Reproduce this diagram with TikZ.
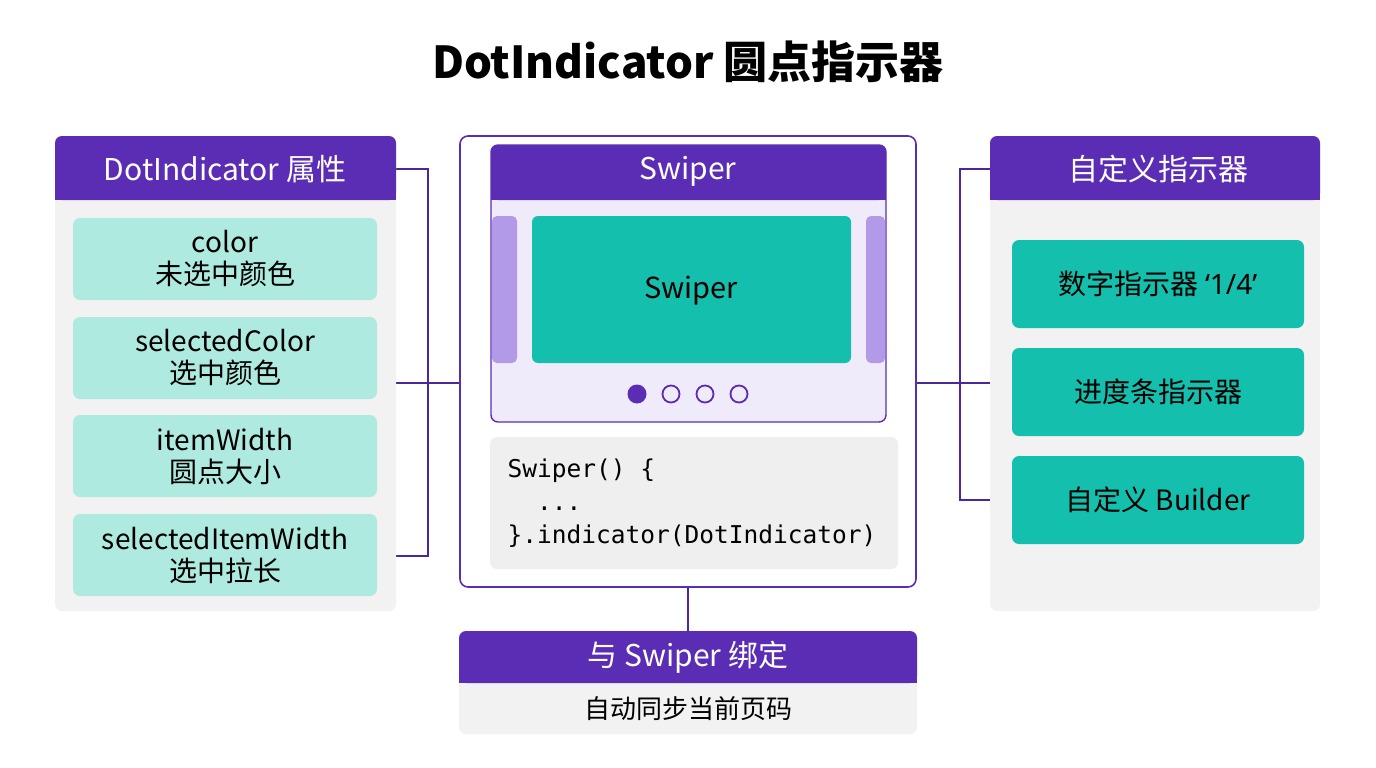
\documentclass[tikz,border=0pt]{standalone}
\usepackage{fontspec}
\setmainfont{Noto Sans CJK SC}
\newfontfamily\codefont{DejaVu Sans Mono}
\newfontfamily\latinfont{Noto Sans}
\begin{document}
\begin{tikzpicture}[x=1pt,y=-1pt,
  hdrtxt/.style={text=white,font=\fontsize{30}{34}\selectfont},
  item/.style={rounded corners=7pt,draw=none},
  itxt/.style={align=center,font=\fontsize{28}{32}\selectfont,text=black},
  conn/.style={draw=hdr!85!black,line width=1.6pt}]
\definecolor{hdr}{HTML}{5B2DB5}
\definecolor{panel}{HTML}{F2F2F2}
\definecolor{mint}{HTML}{AEEAE0}
\definecolor{teal}{HTML}{14BFAD}
\definecolor{lav}{HTML}{F0EBFA}
\definecolor{tab}{HTML}{B39AE8}
\definecolor{code}{HTML}{EFEFEF}
\useasboundingbox (0,0) rectangle (1376,768);
\fill[white] (0,0) rectangle (1376,768);
\node[font=\bfseries\fontsize{44}{48}\selectfont] (title) at (688,62) {DotIndicator 圆点指示器};
% connectors
\draw[conn] (396,169) -- (428,169) -- (428,556) -- (396,556);
\draw[conn] (396,383) -- (460,383);
\draw[conn] (990,169) -- (960,169) -- (960,500) -- (1012,500);
\draw[conn] (916,383) -- (990,383);
\draw[conn] (688,587) -- (688,631);
% left panel
\fill[panel,rounded corners=7pt] (55,136) rectangle (396,611);
\fill[hdr,rounded corners=7pt] (55,136) rectangle (396,200);
\fill[hdr] (55,180) rectangle (396,200);
\node[hdrtxt] (lh) at (225,169) {DotIndicator 属性};
\foreach \a/\b/\t [count=\i] in {218/300/{color\\未选中颜色},317/399/{selectedColor\\选中颜色},415/497/{itemWidth\\圆点大小},514/596/{selectedItemWidth\\选中拉长}}{
  \fill[mint,item] (73,\a) rectangle (377,\b);
  \node[itxt] (l\i) at (225,{(\a+\b)/2}) {\t};
}
% center
\draw[hdr,line width=1.6pt,fill=white,rounded corners=8pt] (460,136) rectangle (916,587);
\draw[hdr,line width=1.4pt,fill=lav,rounded corners=7pt] (491,145) rectangle (886,422);
\fill[hdr,rounded corners=7pt] (491,145) rectangle (886,200);
\fill[hdr] (491,185) rectangle (886,200);
\node[hdrtxt] (sh) at (688,171) {Swiper};
\fill[tab,rounded corners=5pt] (492,216) rectangle (517,363);
\fill[tab,rounded corners=5pt] (866,216) rectangle (885,363);
\fill[teal,rounded corners=6pt] (532,216) rectangle (851,363);
\node[font=\fontsize{29}{32}\selectfont] (sw) at (691,291) {Swiper};
\fill[hdr] (637,394) circle (9.5);
\foreach \x in {671,705,739} \draw[hdr,line width=1.8pt] (\x,394) circle (8.5);
\fill[code,rounded corners=7pt] (490,437) rectangle (898,569);
\node[anchor=west,align=left,font=\codefont\fontsize{24.5}{33}\selectfont] (code) at (504,503) {Swiper() \{\\\ \ ...\\\}.indicator(DotIndicator)};
% right panel
\fill[panel,rounded corners=7pt] (990,136) rectangle (1320,611);
\fill[hdr,rounded corners=7pt] (990,136) rectangle (1320,200);
\fill[hdr] (990,180) rectangle (1320,200);
\node[hdrtxt] (rh) at (1158,169) {自定义指示器};
\foreach \a/\b/\t [count=\i] in {240/328/{数字指示器 {\latinfont ‘1/4’}},348/436/{进度条指示器},456/544/{自定义 Builder}}{
  \fill[teal,item] (1012,\a) rectangle (1304,\b);
  \node[itxt] (r\i) at (1158,{(\a+\b)/2}) {\t};
}
% bottom
\fill[panel,rounded corners=7pt] (459,631) rectangle (917,734);
\fill[hdr,rounded corners=7pt] (459,631) rectangle (917,683);
\fill[hdr] (459,665) rectangle (917,683);
\node[hdrtxt] (bh) at (688,657) {与 Swiper 绑定};
\node[font=\fontsize{26}{30}\selectfont] (bt) at (688,709) {自动同步当前页码};
\end{tikzpicture}
\end{document}
